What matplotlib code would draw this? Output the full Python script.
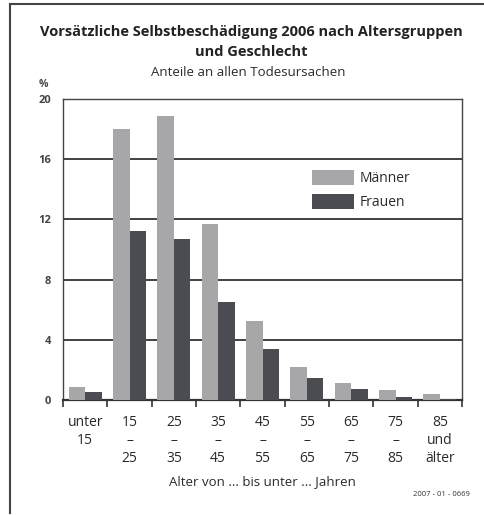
import numpy as np
import matplotlib.pyplot as plt
from matplotlib.lines import Line2D

plt.rcParams['font.family'] = ['Open Sans', 'DejaVu Sans']

# Daten
gruppen = ['unter\n15', '15\n–\n25', '25\n–\n35', '35\n–\n45', '45\n–\n55',
           '55\n–\n65', '65\n–\n75', '75\n–\n85', '85\nund\nälter']
maenner = [0.88, 18.0, 18.9, 11.7, 5.25, 2.2, 1.1, 0.65, 0.4]
frauen = [0.5, 11.2, 10.7, 6.5, 3.4, 1.45, 0.7, 0.2, 0.07]
yticks = [0, 4, 8, 12, 16, 20]

W, H = 484, 515
fig = plt.figure(figsize=(W / 100, H / 100), dpi=100)
fig.patch.set_facecolor('white')

# Achse in Pixeln
x0, x1, ytop, ybot = 63, 462, 99, 400
ax = fig.add_axes([x0 / W, 1 - ybot / H, (x1 - x0) / W, (ybot - ytop) / H])

x = np.arange(len(gruppen))
bw = 0.375
ax.bar(x - bw / 2, maenner, bw, color='#a7a7aa', label='Männer', zorder=3)
ax.bar(x + bw / 2, frauen, bw, color='#4b4b52', label='Frauen', zorder=3)

ax.set_xlim(-0.5, len(gruppen) - 0.5)
ax.set_ylim(0, 20)
ax.set_yticks(yticks)
ax.set_yticklabels([str(v) for v in yticks], fontsize=8, fontweight='bold', color='#444444')
ax.tick_params(axis='y', length=0, pad=8.5)
for v in yticks[1:-1]:
    ax.axhline(v, color='#333333', lw=1.3, zorder=1)

ax.set_xticks(x)
ax.set_xticklabels(gruppen, fontsize=10, color='#2a2a2a', linespacing=1.28, va='top')
ax.tick_params(axis='x', length=0, pad=11)
ax.set_xticks(np.arange(-0.5, len(gruppen)), minor=True)
ax.tick_params(axis='x', which='minor', length=5, width=1.2, direction='out', color='#333333')

for s in ['top', 'right', 'left']:
    ax.spines[s].set_color('#444444')
    ax.spines[s].set_linewidth(1.0)
ax.spines['bottom'].set_color('#333333')
ax.spines['bottom'].set_linewidth(1.6)

ax.set_xlabel('Alter von ... bis unter ... Jahren', fontsize=9.5, color='#2a2a2a', labelpad=6)

leg = ax.legend(loc='upper left', bbox_to_anchor=((312 - x0) / (x1 - x0), (ybot - 170) / (ybot - ytop)),
                frameon=False, fontsize=10, handlelength=3.0, handleheight=1.25,
                labelspacing=0.6, handletextpad=0.45, borderpad=0, borderaxespad=0)
for t in leg.get_texts():
    t.set_color('#2a2a2a')

# Titel
fig.text(251 / W, 1 - 32 / H, 'Vorsätzliche Selbstbeschädigung 2006 nach Altersgruppen',
         ha='center', va='center', fontsize=10.5, fontweight='bold', color='#222222')
fig.text(251 / W, 1 - 52 / H, 'und Geschlecht',
         ha='center', va='center', fontsize=10.5, fontweight='bold', color='#222222')
fig.text(248 / W, 1 - 72 / H, 'Anteile an allen Todesursachen',
         ha='center', va='center', fontsize=9.5, color='#2a2a2a')
fig.text(43 / W, 1 - 84 / H, '%', ha='center', va='center', fontsize=7.5, fontweight='bold', color='#444444')
fig.text(413 / W, 1 - 495 / H, '2007 - 01 - 0669', ha='left', va='center', fontsize=5.5, color='#333333')

# Rahmen
fig.add_artist(Line2D([10 / W, 10 / W], [1 - 4 / H, 1 - 513 / H], color='#444444', lw=1.5))
fig.add_artist(Line2D([10 / W, 1.0], [1 - 4 / H, 1 - 4 / H], color='#444444', lw=1.5))

fig.savefig('out.png', dpi=100, facecolor='white')
